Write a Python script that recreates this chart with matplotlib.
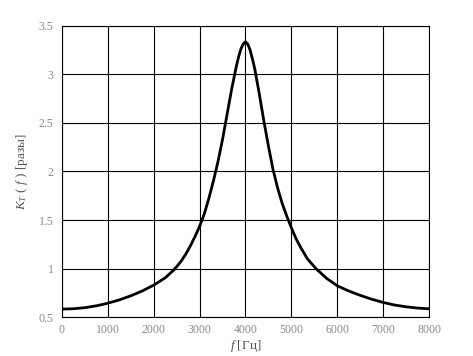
import numpy as np
import matplotlib.pyplot as plt

# frequency (Hz) and transfer coefficient K_T(f)
freq = [0, 250, 500, 750, 1000, 1250, 1500, 1750, 2000, 2250, 2435, 2500,
        2600, 2700, 2800, 2900, 3000, 3100, 3200, 3300, 3400, 3500, 3600,
        3700, 3800, 3850, 3900, 3950, 4000, 4050, 4100, 4150, 4200, 4300,
        4400, 4500, 4600, 4700, 4800, 4900, 5000, 5100, 5200, 5350, 5536,
        5768, 6000, 6250, 6500, 6750, 7000, 7250, 7500, 7750, 8000]
k_t = [0.583, 0.587, 0.598, 0.617, 0.644, 0.678, 0.720, 0.770, 0.830, 0.905, 0.985, 1.02,
       1.078, 1.15, 1.235, 1.33, 1.435, 1.56, 1.72, 1.90, 2.10, 2.33, 2.59,
       2.85, 3.08, 3.18, 3.26, 3.31, 3.335, 3.31, 3.25, 3.16, 3.06, 2.80,
       2.52, 2.26, 2.02, 1.83, 1.67, 1.54, 1.42, 1.31, 1.22, 1.10, 1.00,
       0.90, 0.823, 0.770, 0.725, 0.685, 0.652, 0.625, 0.607, 0.594, 0.586]

x_ticks = np.arange(0, 8001, 1000)
y_ticks = [0.5, 1, 1.5, 2, 2.5, 3, 3.5]
y_tick_labels = ["0.5", "1", "1.5", "2", "2.5", "3", "3.5"]

plt.rcParams['font.family'] = ['Liberation Serif', 'DejaVu Serif']
plt.rcParams['mathtext.fontset'] = 'custom'
plt.rcParams['mathtext.it'] = 'Liberation Serif:italic'
plt.rcParams['mathtext.rm'] = 'Liberation Serif'

fig = plt.figure(figsize=(4.73, 3.56), dpi=100)
ax = fig.add_axes([0.131, 0.109, 0.776, 0.819])

ax.plot(freq, k_t, color='black', linewidth=2.0, solid_joinstyle='round')

ax.set_xlim(0, 8000)
ax.set_ylim(0.5, 3.5)
ax.set_xticks(x_ticks)
ax.set_yticks(y_ticks)
ax.set_yticklabels(y_tick_labels)
ax.grid(True, color='black', linewidth=0.8)
ax.tick_params(length=0, labelsize=8.5, labelcolor='#8a8a8a')
ax.tick_params(axis='y', pad=6)
ax.tick_params(axis='x', pad=5)
for s in ax.spines.values():
    s.set_color('black')
    s.set_linewidth(0.8)

ax.set_xlabel(r"$f$ [Гц]", fontsize=9.5, color='#555555', labelpad=1)
ax.set_ylabel(r"$K_T$ ( $f$ ) [разы]", fontsize=9.5, color='#555555', labelpad=6)

fig.savefig("out.png", dpi=100)
